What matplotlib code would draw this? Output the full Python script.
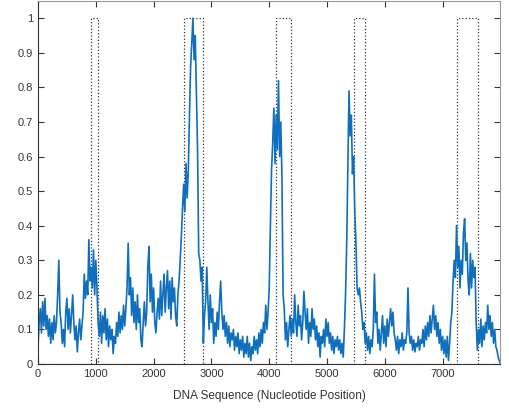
import numpy as np
import matplotlib
matplotlib.use("Agg")
import matplotlib.pyplot as plt

plt.rcParams['font.family'] = ['Liberation Sans', 'DejaVu Sans']

# signal value every 20 nucleotides
STEP = 20
signal = [
    # 0 - 380
    0.05, 0.12, 0.16, 0.09, 0.18, 0.11, 0.19, 0.10, 0.14, 0.08,
    0.13, 0.06, 0.12, 0.07, 0.14, 0.09, 0.12, 0.20, 0.30, 0.15,
    # 400 - 780
    0.12, 0.06, 0.10, 0.05, 0.15, 0.19, 0.10, 0.16, 0.09, 0.14,
    0.20, 0.12, 0.07, 0.11, 0.035, 0.09, 0.13, 0.07, 0.11, 0.15,
    # 800 - 1180
    0.26, 0.19, 0.24, 0.20, 0.36, 0.24, 0.28, 0.22, 0.33, 0.20,
    0.30, 0.22, 0.12, 0.08, 0.15, 0.06, 0.14, 0.09, 0.16, 0.07,
    # 1200 - 1580
    0.13, 0.05, 0.11, 0.07, 0.10, 0.03, 0.08, 0.06, 0.12, 0.08,
    0.15, 0.09, 0.14, 0.10, 0.17, 0.11, 0.16, 0.22, 0.35, 0.20,
    # 1600 - 1980
    0.25, 0.14, 0.22, 0.12, 0.18, 0.10, 0.20, 0.12, 0.16, 0.07,
    0.05, 0.12, 0.18, 0.11, 0.15, 0.28, 0.34, 0.18, 0.26, 0.15,
    # 2000 - 2380
    0.22, 0.12, 0.09, 0.15, 0.19, 0.13, 0.24, 0.14, 0.20, 0.26,
    0.15, 0.22, 0.27, 0.16, 0.24, 0.13, 0.25, 0.18, 0.22, 0.14,
    # 2400 - 2780
    0.11, 0.20, 0.24, 0.30, 0.37, 0.45, 0.52, 0.44, 0.58, 0.48,
    0.56, 0.72, 0.86, 0.93, 1.00, 0.88, 0.95, 0.78, 0.62, 0.32,
    # 2800 - 3180
    0.30, 0.24, 0.28, 0.06, 0.14, 0.18, 0.28, 0.18, 0.10, 0.20,
    0.12, 0.16, 0.06, 0.12, 0.08, 0.15, 0.10, 0.18, 0.24, 0.15,
    # 3200 - 3580
    0.10, 0.14, 0.08, 0.12, 0.06, 0.11, 0.05, 0.09, 0.07, 0.10,
    0.04, 0.08, 0.05, 0.09, 0.03, 0.07, 0.04, 0.08, 0.02, 0.06,
    # 3600 - 3980
    0.03, 0.08, 0.02, 0.06, 0.01, 0.05, 0.03, 0.08, 0.04, 0.07,
    0.03, 0.09, 0.05, 0.10, 0.06, 0.12, 0.09, 0.17, 0.10, 0.15,
    # 4000 - 4380
    0.22, 0.40, 0.56, 0.64, 0.74, 0.58, 0.72, 0.62, 0.82, 0.60,
    0.70, 0.54, 0.20, 0.16, 0.07, 0.12, 0.05, 0.10, 0.14, 0.08,
    # 4400 - 4780
    0.13, 0.09, 0.20, 0.12, 0.08, 0.17, 0.11, 0.14, 0.07, 0.12,
    0.21, 0.15, 0.10, 0.16, 0.06, 0.12, 0.08, 0.16, 0.10, 0.13,
    # 4800 - 5180
    0.07, 0.11, 0.05, 0.09, 0.02, 0.08, 0.06, 0.10, 0.05, 0.13,
    0.08, 0.12, 0.06, 0.09, 0.04, 0.08, 0.03, 0.07, 0.05, 0.08,
    # 5200 - 5580
    0.04, 0.07, 0.03, 0.06, 0.02, 0.10, 0.20, 0.35, 0.58, 0.79,
    0.66, 0.72, 0.55, 0.60, 0.44, 0.35, 0.22, 0.20, 0.22, 0.18,
    # 5600 - 5980
    0.15, 0.10, 0.12, 0.06, 0.09, 0.04, 0.08, 0.03, 0.07, 0.05,
    0.10, 0.26, 0.12, 0.15, 0.06, 0.10, 0.04, 0.09, 0.14, 0.06,
    # 6000 - 6380
    0.11, 0.05, 0.13, 0.08, 0.12, 0.16, 0.11, 0.15, 0.09, 0.07,
    0.04, 0.08, 0.03, 0.07, 0.05, 0.09, 0.04, 0.07, 0.06, 0.09,
    # 6400 - 6780
    0.22, 0.09, 0.06, 0.08, 0.04, 0.07, 0.035, 0.06, 0.05, 0.08,
    0.04, 0.07, 0.06, 0.10, 0.05, 0.11, 0.07, 0.12, 0.08, 0.14,
    # 6800 - 7180
    0.09, 0.13, 0.17, 0.10, 0.14, 0.08, 0.12, 0.06, 0.10, 0.04,
    0.08, 0.03, 0.07, 0.02, 0.08, 0.01, 0.06, 0.12, 0.15, 0.24,
    # 7200 - 7580
    0.30, 0.25, 0.40, 0.28, 0.34, 0.22, 0.30, 0.26, 0.38, 0.42,
    0.30, 0.35, 0.24, 0.20, 0.32, 0.22, 0.30, 0.25, 0.28, 0.12,
    # 7600 - 7980
    0.04, 0.10, 0.06, 0.13, 0.05, 0.11, 0.07, 0.12, 0.09, 0.17,
    0.10, 0.14, 0.08, 0.12, 0.06, 0.10, 0.05, 0.04, 0.02, 0.01,
    0.0,
]

# marked regions (start, end)
region_start = [925, 2530, 4115, 5465, 7250]
region_end = [1040, 2855, 4380, 5650, 7605]
x_max = 7992

pos = np.arange(len(signal)) * STEP

# indicator step line: 0 outside regions, 1 inside
ind_x = [0]
ind_y = [0]
for s, e in zip(region_start, region_end):
    ind_x += [s, s, e, e]
    ind_y += [0, 1, 1, 0]
ind_x.append(x_max)
ind_y.append(0)

fig = plt.figure(figsize=(5.1, 4.15), dpi=100)
ax = fig.add_axes([38 / 510, 1 - 364 / 415, 462 / 510, 363 / 415])

ax.plot(ind_x, ind_y, color="#333333", linestyle=":", linewidth=0.9)
ax.plot(pos, signal, color="#0f6fbd", linewidth=1.2)

ax.set_xlim(0, x_max)
ax.set_ylim(0, 1.05)
ax.set_xticks(np.arange(0, 8000, 1000))
ax.set_yticks(np.arange(0, 1.01, 0.1))
ax.set_yticklabels(["0", "0.1", "0.2", "0.3", "0.4", "0.5", "0.6", "0.7", "0.8", "0.9", "1"])

ax.tick_params(direction="in", length=4, width=0.8, top=True, right=True,
               labelsize=8, colors="#333333", labelcolor="#333333")
for side in ["left", "bottom"]:
    ax.spines[side].set_color("#333333")
for side in ["top", "right"]:
    ax.spines[side].set_color("#999999")

ax.set_xlabel("DNA Sequence (Nucleotide Position)", fontsize=8.5, color="#333333", labelpad=8)

fig.savefig("out.png", dpi=100)
